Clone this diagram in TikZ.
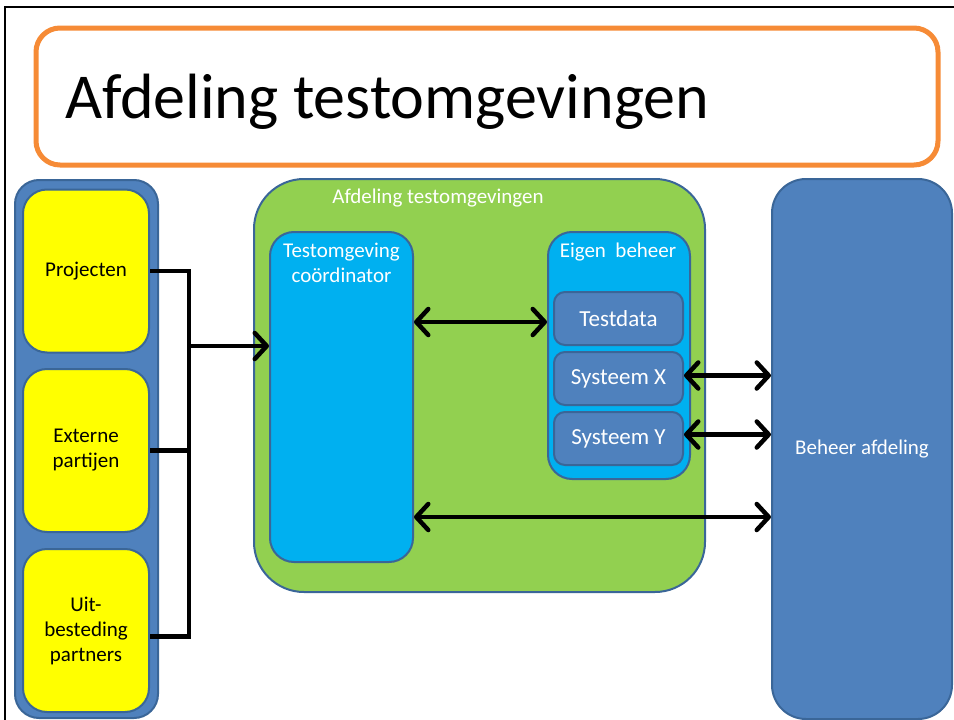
\documentclass[tikz,border=0pt]{standalone}
\usepackage{fontspec}
\setmainfont{Carlito}
\usetikzlibrary{arrows.meta}
\definecolor{sblue}{HTML}{4F81BD}
\definecolor{sborder}{HTML}{3A6698}
\definecolor{syellow}{HTML}{FFFF00}
\definecolor{sgreen}{HTML}{92D050}
\definecolor{scyan}{HTML}{00B0F0}
\definecolor{sorange}{HTML}{F68B36}
\tikzset{
  box/.style={draw=sborder, line width=2pt, inner sep=0pt, rectangle},
  lbl/.style={font=\fontsize{21}{25}\selectfont, align=center, inner sep=0pt},
  wlbl/.style={lbl, text=white},
  conn/.style={line width=4.5pt, draw=black},
  tipp/.tip={Straight Barb[length=12pt,width=26pt,round]},
}
\begin{document}
\begin{tikzpicture}[x=1pt,y=-1pt]
\useasboundingbox (0,0) rectangle (954,720);
% page frame
\draw[line width=2pt] (5,720) -- (5,7) -- (954,7);
% title
\node[draw=sorange, line width=5pt, rounded corners=24pt, minimum width=902pt, minimum height=137pt, inner sep=0pt] (titlebox) at (487,96.5) {};
\node[anchor=base west, inner sep=0pt, font=\fontsize{64}{70}\selectfont] (title) at (65,118) {Afdeling testomgevingen};
% left column
\node[box, fill=sblue, rounded corners=24pt, minimum width=143pt, minimum height=538pt] (left) at (86.5,449) {};
\node[box, fill=syellow, rounded corners=24pt, minimum width=126pt, minimum height=163pt, lbl] (proj) at (86,271) {Projecten};
\node[box, fill=syellow, rounded corners=24pt, minimum width=126pt, minimum height=163pt, lbl] (ext) at (86,450.5) {Externe\\partijen};
\node[box, fill=syellow, rounded corners=24pt, minimum width=126pt, minimum height=163pt, lbl] (uit) at (86,630.5) {Uit-\\besteding\\partners};
% green department
\node[box, fill=sgreen, rounded corners=50pt, minimum width=451pt, minimum height=413pt] (green) at (479.5,385.5) {};
\node[wlbl] (greentxt) at (438,198) {Afdeling testomgevingen};
\node[box, fill=scyan, rounded corners=24pt, minimum width=143pt, minimum height=330pt] (coord) at (341.5,397) {};
\node[wlbl, anchor=north] (coordtxt) at (341.5,243) {Testomgeving\\co\"ordinator};
\node[box, fill=scyan, rounded corners=24pt, minimum width=142pt, minimum height=247pt] (eigen) at (619,355.5) {};
\node[wlbl] (eigentxt) at (618,252) {Eigen\ \ beheer};
\node[box, fill=sblue, rounded corners=11pt, minimum width=129pt, minimum height=53pt, wlbl, font=\fontsize{23}{27}\selectfont] (testdata) at (618.5,318.5) {Testdata};
\node[box, fill=sblue, rounded corners=11pt, minimum width=129pt, minimum height=53pt, wlbl, font=\fontsize{23}{27}\selectfont] (sysx) at (618.5,378.5) {Systeem X};
\node[box, fill=sblue, rounded corners=11pt, minimum width=129pt, minimum height=53pt, wlbl, font=\fontsize{23}{27}\selectfont] (sysy) at (618.5,438.5) {Systeem Y};
% beheer
\node[box, fill=sblue, rounded corners=34pt, minimum width=180pt, minimum height=540pt, wlbl] (beheer) at (862,449) {Beheer afdeling};
% connectors
\coordinate (bj) at (188,346);
\coordinate (r1) at (0,322);
\coordinate (r4) at (0,517);
\draw[conn] (proj.east) -- ++(39,0) |- ([yshift=-6pt]uit.east);
\draw[conn] (ext.east) -- (ext.east -| bj);
\draw[conn, -{tipp}] (bj) -- (bj -| coord.west);
\draw[conn, {tipp}-{tipp}] (coord.east |- r1) -- (eigen.west |- r1);
\draw[conn, {tipp}-{tipp}] ([yshift=3pt]sysx.east) -- ([yshift=3pt]sysx.east -| beheer.west);
\draw[conn, {tipp}-{tipp}] ([yshift=4pt]sysy.east) -- ([yshift=4pt]sysy.east -| beheer.west);
\draw[conn, {tipp}-{tipp}] (coord.east |- r4) -- (beheer.west |- r4);
\end{tikzpicture}
\end{document}
